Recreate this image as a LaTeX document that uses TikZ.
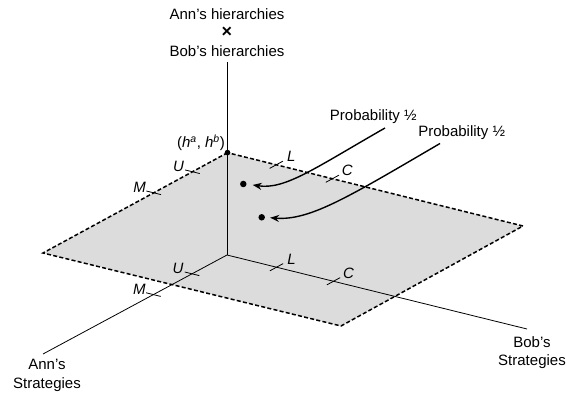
\documentclass[tikz,border=0pt]{standalone}
\usepackage{fontspec}
\setmainfont{Liberation Sans}
\usepackage{tikz}
\usetikzlibrary{arrows.meta, positioning, calc}
\usepackage{xcolor}
\definecolor{PlaneGrey}{HTML}{DCDCDC}

\begin{document}
\begin{tikzpicture}[x=1pt, y=-1pt,
    axisline/.style={black, line width=0.8pt},
    planeedge/.style={black, line width=1.5pt, dash pattern=on 4pt off 2.3pt},
    tickmark/.style={black, line width=0.8pt},
    ticklbl/.style={font=\fontsize{15}{18}\selectfont\itshape, inner sep=0pt},
    axislbl/.style={font=\fontsize{15}{18.5}\selectfont, align=center, inner sep=0pt},
    problbl/.style={font=\fontsize{15}{18}\selectfont, inner sep=0pt},
    probarrow/.style={black, line width=1.4pt, -{Stealth[length=9pt, width=7pt]}},
    stratdot/.style={circle, fill=black, inner sep=0pt, minimum size=6.5pt}
]
\useasboundingbox (0,0) rectangle (566,393);

% =============================================
% Axes and the plane of hierarchies
% =============================================
\coordinate (O) at (227,255);
\coordinate (annEnd) at (43,354);
\coordinate (bobEnd) at (527,329);
\coordinate (hierTop) at (227,62);

\node[stratdot, minimum size=5.5pt] (T) at (227.5,152.7) {};
\coordinate (pL) at (43,253);
\coordinate (pB) at (341,326);
\coordinate (pR) at (523,226);

\draw[planeedge, fill=PlaneGrey] (T.center) -- (pL) -- (pB) -- (pR) -- cycle;

\draw[axisline] (O) -- (hierTop);
\draw[axisline] (O) -- (annEnd);
\draw[axisline] (O) -- (bobEnd);
\node[stratdot, minimum size=5.5pt] at (T) {};

% ticks on Ann's side
\foreach \t/\nm in {0.19/U, 0.40/M} {
    \coordinate (ax\nm) at ($(O)!\t!(annEnd)$);
    \coordinate (pe\nm) at ($(T.center)!\t!(pL)$);
    \draw[tickmark] ($(ax\nm)+(-7.3,-1.8)$) -- ($(ax\nm)+(7.3,1.8)$);
    \draw[tickmark] ($(pe\nm)+(-7.3,-1.8)$) -- ($(pe\nm)+(7.3,1.8)$);
    \node[ticklbl] (axlbl\nm) at ($(ax\nm)+(-14,-5.5)$) {\nm};
    \node[ticklbl] (pelbl\nm) at ($(pe\nm)+(-14,-5.5)$) {\nm};
}

% ticks on Bob's side
\foreach \t/\nm in {0.165/L, 0.355/C} {
    \coordinate (ax\nm) at ($(O)!\t!(bobEnd)$);
    \coordinate (pe\nm) at ($(T.center)!\t!(pR)$);
    \draw[tickmark] ($(ax\nm)+(-6.6,3.6)$) -- ($(ax\nm)+(6.6,-3.6)$);
    \draw[tickmark] ($(pe\nm)+(-6.6,3.6)$) -- ($(pe\nm)+(6.6,-3.6)$);
    \node[ticklbl] (axlbl\nm) at ($(ax\nm)+(15,-8)$) {\nm};
    \node[ticklbl] (pelbl\nm) at ($(pe\nm)+(15,-8)$) {\nm};
}

% Axis labels
\node[axislbl, anchor=north] (hierLbl) at (227,8)
    {Ann’s hierarchies\\ {\fontsize{18}{18.5}\selectfont\textbf{×}}\\ Bob’s hierarchies};
\node[axislbl, anchor=north] (annLbl) at (47,359) {Ann’s\\ Strategies};
\node[axislbl, anchor=north] (bobLbl) at (532,336) {Bob’s\\ Strategies};
\node[problbl, anchor=east] (hLbl) at (225,143)
    {(\textit{h}\textsuperscript{\textit{a}}, \textit{h}\textsuperscript{\textit{b}})};

% =============================================
% Probability arrows
% =============================================
\node[stratdot] (s1) at (243.3,184) {};
\node[stratdot] (s2) at (261.7,217.3) {};

\node[problbl] (prob1) at (373.3,116.7) {Probability ½};
\node[problbl] (prob2) at (461.7,132.7) {Probability ½};
\coordinate (p1tail) at (385,128);
\coordinate (p2tail) at (440,143.5);

\draw[probarrow, shorten >=6pt] (p1tail) .. controls (315,168) and (285,190) .. (s1.east);
\draw[probarrow, shorten >=5pt] (p2tail) .. controls (350,196) and (310,221) .. (s2.east);

\end{tikzpicture}
\end{document}
